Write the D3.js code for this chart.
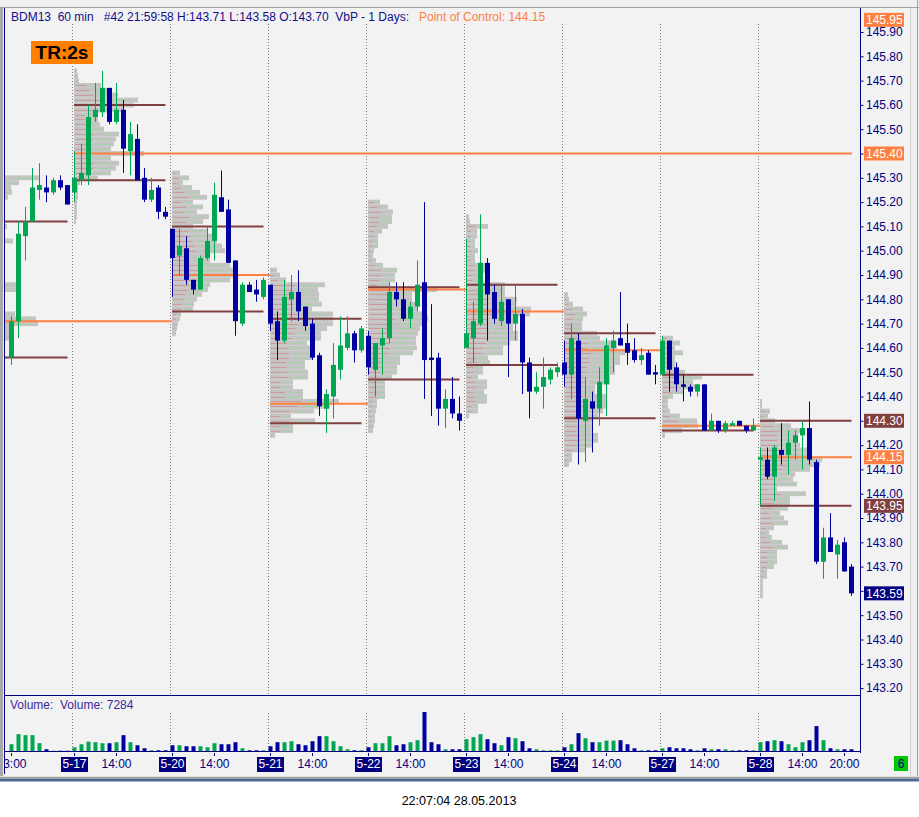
<!DOCTYPE html>
<html><head><meta charset="utf-8">
<script src="https://cdn.jsdelivr.net/npm/d3@7"></script>
<style>
body{margin:0;background:#f0f0f0;overflow:hidden}
svg{display:block;font-family:"Liberation Sans",Arial,sans-serif}
</style></head>
<body><svg id="c" width="919" height="817"></svg>
<script>
// ---------------- DATA ----------------
const days = ["5-16","5-17","5-20","5-21","5-22","5-23","5-24","5-27","5-28"];
const firstHour = [13,8,8,8,8,8,8,8,8];
const lastHour = 21;

const opens = [144.56,144.71,145.06,145.12,145.25,145.26,145.24,145.29,145.27,
145.24,145.29,145.31,145.55,145.57,145.67,145.53,145.58,145.41,145.46,145.30,145.21,145.26,145.16,
145.09,144.98,145.01,144.88,144.84,144.97,145.04,145.22,145.17,144.96,144.70,144.86,144.84,144.81,
144.86,144.71,144.63,144.80,144.83,144.77,144.70,144.57,144.35,144.40,144.51,144.60,144.66,144.59,
144.65,144.51,144.61,144.64,144.83,144.80,144.72,144.77,144.87,144.56,144.56,144.35,144.39,144.33,
144.60,144.64,144.70,144.95,144.83,144.71,144.80,144.70,144.74,144.54,144.42,144.44,144.47,144.50,
144.54,144.49,144.63,144.30,144.38,144.35,144.45,144.60,144.64,144.62,144.59,144.55,144.58,144.50,
144.49,144.63,144.52,144.45,144.44,144.42,144.45,144.26,144.30,144.26,144.28,144.30,144.28,144.26,
144.14,144.14,144.07,144.18,144.16,144.21,144.24,144.27,144.13,143.72,143.82,143.75,143.80,143.70];
const highs = [144.73,145.12,145.18,145.34,145.36,145.31,145.30,145.31,145.27,
145.41,145.44,145.60,145.69,145.74,145.67,145.69,145.62,145.53,145.52,145.34,145.30,145.27,145.18,
145.09,145.09,145.06,144.88,144.98,145.10,145.28,145.33,145.21,144.96,144.87,144.87,144.88,144.89,
144.86,144.75,144.88,144.90,144.92,144.77,144.72,144.58,144.43,144.62,144.73,144.73,144.67,144.69,
144.67,144.62,144.68,144.87,144.87,144.87,144.79,144.96,145.20,144.78,144.58,144.43,144.48,144.40,
145.05,144.79,145.15,144.97,144.86,144.86,144.80,144.86,144.76,144.56,144.50,144.56,144.52,144.54,
144.63,144.70,144.66,144.48,144.42,144.52,144.64,144.67,144.83,144.70,144.64,144.60,144.59,144.53,
144.65,144.63,144.54,144.49,144.45,144.45,144.45,144.33,144.30,144.30,144.30,144.30,144.28,144.31,
144.19,144.19,144.20,144.29,144.26,144.26,144.30,144.38,144.14,143.86,143.92,143.81,143.82,143.71];
const lows = [144.53,144.64,144.96,145.12,145.21,145.20,145.23,145.25,145.19,
145.20,145.27,145.27,145.53,145.55,145.52,145.52,145.32,145.31,145.29,145.20,145.20,145.13,145.13,
144.81,144.90,144.86,144.82,144.84,144.96,144.96,145.16,144.95,144.65,144.69,144.83,144.79,144.80,
144.67,144.55,144.62,144.71,144.71,144.67,144.55,144.32,144.25,144.31,144.47,144.59,144.54,144.58,
144.49,144.40,144.49,144.62,144.77,144.71,144.68,144.75,144.39,144.32,144.28,144.27,144.31,144.26,
144.60,144.54,144.69,144.63,144.70,144.69,144.48,144.63,144.41,144.31,144.41,144.35,144.45,144.48,
144.44,144.39,144.12,144.13,144.17,144.28,144.32,144.50,144.61,144.53,144.54,144.53,144.49,144.45,
144.49,144.42,144.42,144.38,144.40,144.40,144.26,144.26,144.25,144.25,144.28,144.28,144.25,144.26,
143.95,144.06,143.97,144.12,144.08,144.14,144.10,144.12,143.71,143.65,143.76,143.65,143.68,143.58];
const closes = [144.71,145.07,145.12,145.26,145.27,145.24,145.29,145.26,145.19,
145.30,145.32,145.55,145.58,145.67,145.53,145.58,145.42,145.48,145.29,145.21,145.25,145.16,145.14,
144.97,145.02,144.88,144.84,144.97,145.04,145.23,145.16,144.95,144.71,144.86,144.83,144.82,144.88,
144.70,144.63,144.81,144.83,144.75,144.69,144.56,144.36,144.41,144.53,144.61,144.66,144.59,144.68,
144.52,144.62,144.64,144.83,144.80,144.72,144.77,144.86,144.55,144.55,144.35,144.39,144.33,144.30,
144.66,144.71,144.95,144.82,144.72,144.79,144.70,144.74,144.54,144.42,144.44,144.48,144.51,144.52,
144.49,144.64,144.31,144.39,144.35,144.46,144.61,144.63,144.61,144.58,144.55,144.57,144.49,144.49,
144.63,144.51,144.45,144.44,144.42,144.45,144.26,144.30,144.26,144.29,144.29,144.28,144.26,144.28,
144.15,144.07,144.19,144.16,144.21,144.24,144.27,144.14,143.72,143.82,143.76,143.79,143.68,143.59];
const volumes = [20800,47800,45100,45100,23500,7300,3500,3500,3500,
12700,20800,27800,26200,23500,23500,26200,45100,26200,18100,10000,4600,4600,4600,
18100,18100,15400,15400,15400,12700,23500,20800,20800,26200,10000,4600,4600,4600,
15400,26200,26200,28900,20800,18100,28900,42400,42400,28900,15400,7300,4600,4600,
12700,23500,23500,42400,18100,20800,26200,31600,107200,26200,20800,7300,7300,7300,
34300,39700,47800,34300,23500,18100,39700,37000,28900,10000,7300,4600,4600,4600,
12700,20800,50500,37000,26200,26200,30500,30500,31600,20800,10000,4600,4600,4600,
10000,12700,10000,10000,7300,4600,10000,7300,7300,7300,4600,4600,4600,4600,
26200,28900,31600,28900,20800,12700,26200,31600,69400,31600,10000,7300,7300,7284];

// value area high / point of control / value area low per day
const vahPrices = [145.12,145.60,145.10,144.72,144.85,144.86,144.66,144.49,144.30];
const pocPrices = [144.71,145.40,144.90,144.37,144.84,144.75,144.59,144.28,144.15];
const valPrices = [144.56,145.29,144.75,144.29,144.47,144.53,144.31,144.26,143.95];
const pocUntilDay = [2,9,3,4,5,6,7,8,9];   // POC line extends until that day starts (9 = chart end)

// volume-by-price profile per day (top price, then volume units per 0.02 step downward)
const profileTop = [145.34,145.74,145.32,144.92,145.20,145.14,144.82,144.64,144.38];
const profileStep = 0.02;
const profile0516 = [18,26,63,43,35,36,32,28,26,26,26,28,31,28,28,37,28,26,26,24,22,22,24,26,41,41,28,26,26,28,39,60,62,33,33,33,28,26,26,24,22,18];
const profile0517 = [3,4,5,27,35,44,64,60,50,24,24,26,30,45,42,40,37,70,37,45,42,37,24,6,4,4,4,3,3,3,3,2];
const profile0520 = [8,17,11,20,28,35,21,31,25,37,31,21,35,40,45,50,53,38,38,58,62,66,58,38,36,30,25,22,21,9,8,6,5,4];
const profile0521 = [7,10,16,55,48,49,49,52,42,63,63,63,57,51,51,37,40,42,42,35,35,38,38,23,23,33,33,69,60,44,21,45,23,23,5];
const profile0522 = [12,20,25,24,24,20,14,10,10,10,6,5,8,15,29,27,27,22,69,44,44,49,49,55,60,55,52,50,48,48,49,45,32,32,29,29,24,17,17,17,17,9,9,8,7,7,6,5];
const profile0523 = [3,4,22,11,11,9,9,12,9,9,19,19,14,14,39,39,39,51,49,65,64,47,47,47,52,52,44,37,37,22,24,17,17,12,21,21,18,21,21,12,12,3];
const profile0524 = [4,5,9,19,23,19,18,18,33,36,53,53,61,56,56,51,51,46,46,31,31,43,43,43,39,34,29,29,28,34,34,28,21,8,8,5];
const profile0527 = [11,18,13,21,13,13,13,23,40,31,35,21,11,6,6,8,18,35,36,20,3];
const profile0528 = [2,2,10,8,15,31,45,38,38,40,47,49,62,60,50,35,33,37,17,46,30,30,28,20,24,28,14,9,12,22,28,17,17,17,14,7,7,3,3,3,3];
const profiles = [profile0516,profile0517,profile0520,profile0521,profile0522,profile0523,profile0524,profile0527,profile0528];

const priceTicks = d3.range(0,28).map(i => +(143.2 + i*0.1).toFixed(2));
const markerPrices = [145.95,145.40,144.30,144.15,143.95,143.59];
const markerKinds  = ["poc","poc","va","poc","va","last"];
const hourLabelDays  = [0,1,2,3,4,5,6,7,8,8];
const hourLabelHours = [13,14,14,14,14,14,14,14,14,20];

// ---------------- SETUP ----------------
const C = {green:"#00a651", blue:"#0000a0", navy:"#000080", poc:"#ff8040", va:"#804040", last:"#000080", prof:"#c4c4c4", bg:"#f2f2f2"};
const svg = d3.select("#c");
const x = d3.scaleLinear().domain([0,120]).range([11,851]);
const y = d3.scaleLinear().domain([143.2,145.9]).range([688.1,32]);
const yv = d3.scaleLinear().domain([0,150000]).range([752,696]);
const pw = d3.scaleLinear().domain([0,100]).range([0,100]);
function pos(d,h){ return d===0 ? h-13 : 9+(d-1)*14+(h-8); }
const bars = opens.map((o,i)=>({i,o,h:highs[i],l:lows[i],c:closes[i],v:volumes[i]}));

const defs = svg.append("defs");
defs.append("clipPath").attr("id","pc").append("rect").attr("x",5).attr("y",8).attr("width",855).attr("height",687);
defs.append("clipPath").attr("id","vc").append("rect").attr("x",5).attr("y",697).attr("width",855).attr("height",55);
defs.append("clipPath").attr("id","bc").append("rect").attr("x",5).attr("y",753).attr("width",855).attr("height",20);

// backgrounds
svg.append("rect").attr("width",919).attr("height",817).attr("fill","#f0f0f0");
svg.append("rect").attr("x",5).attr("y",8).attr("width",905).attr("height",768).attr("fill",C.bg);
svg.append("rect").attr("x",0).attr("y",7).attr("width",919).attr("height",1).attr("fill","#a0a0a0");
svg.append("rect").attr("x",0).attr("y",8).attr("width",3).attr("height",770).attr("fill","#a8a8a8");
svg.append("rect").attr("x",910).attr("y",8).attr("width",1).attr("height",770).attr("fill","#d0d0d0");
svg.append("rect").attr("x",917).attr("y",0).attr("width",1).attr("height",778).attr("fill","#a0a0a0");
svg.append("rect").attr("x",0).attr("y",776).attr("width",919).attr("height",1).attr("fill","#e0e0e0");
svg.append("rect").attr("x",0).attr("y",777).attr("width",919).attr("height",2).attr("fill","#a0a0a0");
svg.append("rect").attr("x",0).attr("y",779).attr("width",919).attr("height",2).attr("fill","#4a6a9a");
svg.append("rect").attr("x",0).attr("y",781).attr("width",919).attr("height",1).attr("fill","#a8b8d0");
svg.append("rect").attr("x",0).attr("y",782).attr("width",919).attr("height",35).attr("fill","#ffffff");

// ---------------- PRICE PANEL ----------------
const gp = svg.append("g").attr("clip-path","url(#pc)");

// volume profiles (grey rows with thin sell/buy tint line through each row)
days.forEach((dname,d)=>{
  const x0 = x(pos(d,8));
  const rows = profiles[d].map((v,k)=>({v, p: profileTop[d]-k*profileStep}));
  const g = gp.append("g");
  g.selectAll("rect").data(rows).join("rect")
    .attr("x",x0)
    .attr("y",r=>y(r.p+profileStep/2))
    .attr("height",r=>y(r.p-profileStep/2)-y(r.p+profileStep/2))
    .attr("width",r=>pw(r.v))
    .attr("fill",C.prof);
  g.selectAll("line.s").data(rows).join("line").attr("class","s")
    .attr("x1",x0+1).attr("x2",r=>x0+pw(r.v)*0.45)
    .attr("y1",r=>Math.round(y(r.p))+0.5).attr("y2",r=>Math.round(y(r.p))+0.5)
    .attr("stroke","#cf9a9a").attr("stroke-width",1);
  g.selectAll("line.b").data(rows).join("line").attr("class","b")
    .attr("x1",r=>x0+pw(r.v)*0.55).attr("x2",r=>x0+pw(r.v)*0.9)
    .attr("y1",r=>Math.round(y(r.p))+0.5).attr("y2",r=>Math.round(y(r.p))+0.5)
    .attr("stroke","#a6d4a6").attr("stroke-width",1);
});

// day separators
const sepDays = d3.range(1,days.length);
gp.append("g").selectAll("line").data(sepDays).join("line")
  .attr("x1",d=>Math.round(x(pos(d,8))-2.5)+0.5).attr("x2",d=>Math.round(x(pos(d,8))-2.5)+0.5)
  .attr("y1",24).attr("y2",695)
  .attr("stroke","#808080").attr("stroke-dasharray","1,2");

// value area lines + POC
days.forEach((dname,d)=>{
  const xs = x(pos(d,8)), xe = x(pos(d,lastHour));
  [vahPrices[d],valPrices[d]].forEach(p=>{
    gp.append("line").attr("x1",xs).attr("x2",xe+0.5).attr("y1",y(p)).attr("y2",y(p))
      .attr("stroke",C.va).attr("stroke-width",2);
  });
  const pe = pocUntilDay[d] >= days.length ? 852 : x(pos(pocUntilDay[d],8));
  gp.append("line").attr("x1",xs).attr("x2",pe).attr("y1",y(pocPrices[d])).attr("y2",y(pocPrices[d]))
    .attr("stroke",C.poc).attr("stroke-width",2);
});

// candles
const cg = gp.append("g").selectAll("g").data(bars).join("g");
cg.append("line")
  .attr("x1",b=>x(b.i)+0.5).attr("x2",b=>x(b.i)+0.5)
  .attr("y1",b=>y(b.h)).attr("y2",b=>y(b.l))
  .attr("stroke",b=>b.c>=b.o?C.green:C.blue).attr("stroke-width",1);
cg.append("rect")
  .attr("x",b=>x(b.i)-2).attr("width",5)
  .attr("y",b=>y(Math.max(b.o,b.c)))
  .attr("height",b=>Math.max(1,y(Math.min(b.o,b.c))-y(Math.max(b.o,b.c))))
  .attr("fill",b=>b.c>=b.o?C.green:C.blue);

// ---------------- VOLUME PANEL ----------------
const gv = svg.append("g").attr("clip-path","url(#vc)");
gv.append("g").selectAll("line").data(sepDays).join("line")
  .attr("x1",d=>Math.round(x(pos(d,8))-2.5)+0.5).attr("x2",d=>Math.round(x(pos(d,8))-2.5)+0.5)
  .attr("y1",713).attr("y2",752)
  .attr("stroke","#808080").attr("stroke-dasharray","1,2");
gv.append("g").selectAll("rect").data(bars).join("rect")
  .attr("x",b=>x(b.i)-1.5).attr("width",4)
  .attr("y",b=>yv(b.v)).attr("height",b=>yv(0)-yv(b.v))
  .attr("fill",b=>b.c>=b.o?C.green:C.blue);

svg.append("text").attr("x",10).attr("y",709).attr("font-size",12).attr("fill","#3a2a9a")
  .attr("xml:space","preserve").style("white-space","pre")
  .text("Volume:  Volume: " + volumes[volumes.length-1]);

// ---------------- FRAME ----------------
svg.append("rect").attr("x",4).attr("y",8).attr("width",1).attr("height",766).attr("fill",C.navy);
svg.append("rect").attr("x",860).attr("y",8).attr("width",1).attr("height",745).attr("fill",C.navy);
svg.append("rect").attr("x",4).attr("y",695).attr("width",857).attr("height",1).attr("fill",C.navy);
svg.append("rect").attr("x",4).attr("y",751).attr("width",857).attr("height",1).attr("fill",C.navy);

// ---------------- RIGHT PRICE AXIS ----------------
// tick labels that sit right under a highlighted marker are covered by it, so they are not drawn
const visibleTickLabel = t => !markerPrices.some(m => Math.abs(y(m)-y(t)) < 4);
const ax = svg.append("g").attr("transform","translate(860.5,0)")
  .call(d3.axisRight(y).tickValues(priceTicks).tickSize(3)
    .tickFormat(t => visibleTickLabel(t) ? d3.format(".2f")(t) : ""));
ax.select(".domain").remove();
ax.selectAll("line").attr("stroke",C.navy);
ax.selectAll("text").attr("fill",C.navy).attr("font-size",12).attr("font-family","Liberation Sans, Arial, sans-serif").attr("x",5.5);

const mk = svg.append("g").selectAll("g").data(markerPrices).join("g");
mk.append("rect").attr("x",864).attr("width",40).attr("y",p=>y(p)-7).attr("height",14)
  .attr("fill",(p,i)=>C[markerKinds[i]]);
mk.append("text").attr("x",866).attr("y",p=>y(p)).attr("dy","0.35em").attr("font-size",12)
  .attr("fill","#ffffff").text(p=>p.toFixed(2));

// ---------------- BOTTOM TIME AXIS ----------------
const gb = svg.append("g").attr("clip-path","url(#bc)");
const hourLab = hourLabelDays.map((d,k)=>({p:pos(d,hourLabelHours[k]), t:String(hourLabelHours[k])+":00"}));
const dateLab = sepDays.map(d=>({p:pos(d,8), t:days[d]}));
gb.selectAll("line.tk").data(hourLab.concat(dateLab)).join("line").attr("class","tk")
  .attr("x1",o=>x(o.p)+0.5).attr("x2",o=>x(o.p)+0.5).attr("y1",752).attr("y2",756)
  .attr("stroke",C.navy);
gb.selectAll("text.hl").data(hourLab).join("text").attr("class","hl")
  .attr("x",o=>x(o.p)+0.5).attr("y",768).attr("text-anchor","middle")
  .attr("font-size",12).attr("fill",C.navy).text(o=>o.t);
const dl = gb.selectAll("g.dl").data(dateLab).join("g").attr("class","dl");
dl.append("rect").attr("x",o=>x(o.p)-13).attr("width",27).attr("y",757).attr("height",15).attr("fill",C.navy);
dl.append("text").attr("x",o=>x(o.p)+0.5).attr("y",768).attr("text-anchor","middle")
  .attr("font-size",12).attr("fill","#ffffff").text(o=>o.t);

// green marker box bottom right
svg.append("rect").attr("x",894).attr("y",756).attr("width",14).attr("height",15).attr("fill","#00c800");
svg.append("text").attr("x",901).attr("y",768).attr("text-anchor","middle").attr("font-size",12).attr("fill",C.navy).text("6");

// ---------------- HEADER ----------------
const last = bars[bars.length-1];
svg.append("text").attr("x",11).attr("y",21).attr("font-size",12).attr("fill","#10108a")
  .attr("xml:space","preserve").style("white-space","pre")
  .text("BDM13  60 min   #42 21:59:58 H:"+last.h.toFixed(2)+" L:"+last.l.toFixed(2)+" O:"+last.o.toFixed(2)+"  VbP - 1 Days:");
svg.append("text").attr("x",419).attr("y",21).attr("font-size",12).attr("fill",C.poc)
  .text("Point of Control: "+pocPrices[pocPrices.length-1].toFixed(2));

svg.append("rect").attr("x",31).attr("y",41).attr("width",62).attr("height",23).attr("fill","#ff8000");
svg.append("text").attr("x",62).attr("y",59).attr("text-anchor","middle").attr("font-size",19)
  .attr("font-weight","bold").attr("fill","#000").text("TR:2s");

// status bar
svg.append("text").attr("x",459).attr("y",805).attr("text-anchor","middle").attr("font-size",12.5)
  .attr("fill","#000").text("22:07:04 28.05.2013");
</script></body></html>
